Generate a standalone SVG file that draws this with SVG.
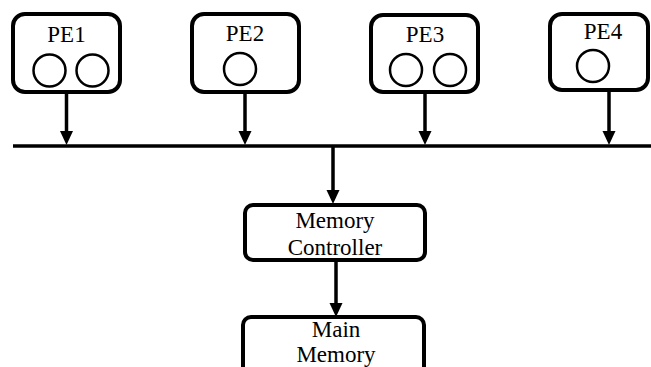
<svg xmlns="http://www.w3.org/2000/svg" width="651" height="367" viewBox="0 0 651 367">
  <style>
    .box { fill: #fff; stroke: #000; stroke-width: 4; }
    .core { fill: #fff; stroke: #000; stroke-width: 2.5; }
    .lbl { font-family: "Liberation Serif", "Times New Roman", serif; font-size: 23px; fill: #000; text-anchor: middle; }
    .wire { stroke: #000; stroke-width: 3.5; fill: none; }
    .head { fill: #000; }
  </style>
  <defs>
    <!-- arrowhead, tip at origin, pointing down -->
    <path id="ah" class="head" d="M0 0 L-6.5 -14 L6.5 -14 Z"/>
  </defs>
  <rect width="651" height="367" fill="#fff"/>

  <g id="connectors">
    <!-- shared bus -->
    <line x1="13" y1="146" x2="651" y2="146" class="wire" stroke-width="4"/>
    <line x1="66.5" y1="92" x2="66.5" y2="134" class="wire"/>
    <use href="#ah" x="66.5" y="145"/>
    <line x1="245" y1="92" x2="245" y2="134" class="wire"/>
    <use href="#ah" x="245" y="145"/>
    <line x1="425" y1="92" x2="425" y2="134" class="wire"/>
    <use href="#ah" x="425" y="145"/>
    <line x1="609" y1="90" x2="609" y2="134" class="wire"/>
    <use href="#ah" x="609" y="145"/>
    <!-- bus to memory controller -->
    <line x1="333" y1="146" x2="333" y2="192" class="wire"/>
    <use href="#ah" x="333" y="204"/>
    <!-- memory controller to main memory -->
    <line x1="336" y1="260" x2="336" y2="305" class="wire"/>
    <use href="#ah" x="336" y="317"/>
  </g>

  <g id="pe1">
    <rect class="box" x="13" y="14" width="107" height="78" rx="12"/>
    <text class="lbl" x="66.5" y="42">PE1</text>
    <circle class="core" cx="49.5" cy="70.5" r="16"/>
    <circle class="core" cx="92.5" cy="70.5" r="16"/>
  </g>

  <g id="pe2">
    <rect class="box" x="192" y="14" width="107" height="78" rx="12"/>
    <text class="lbl" x="245" y="41">PE2</text>
    <circle class="core" cx="240" cy="69" r="16"/>
  </g>

  <g id="pe3">
    <rect class="box" x="371" y="15" width="107" height="77" rx="12"/>
    <text class="lbl" x="425" y="42">PE3</text>
    <circle class="core" cx="406" cy="70" r="16"/>
    <circle class="core" cx="450" cy="70" r="16"/>
  </g>

  <g id="pe4">
    <rect class="box" x="550" y="14" width="98" height="76" rx="12"/>
    <text class="lbl" x="603" y="39">PE4</text>
    <circle class="core" cx="593" cy="66" r="16"/>
  </g>

  <g id="memory-controller">
    <rect class="box" x="245" y="205" width="180" height="55" rx="8"/>
    <text class="lbl" x="335" y="228">Memory</text>
    <text class="lbl" x="335" y="255">Controller</text>
  </g>

  <g id="main-memory">
    <rect class="box" x="243" y="317" width="181" height="70" rx="8"/>
    <text class="lbl" x="336" y="337">Main</text>
    <text class="lbl" x="336" y="362">Memory</text>
  </g>
</svg>
